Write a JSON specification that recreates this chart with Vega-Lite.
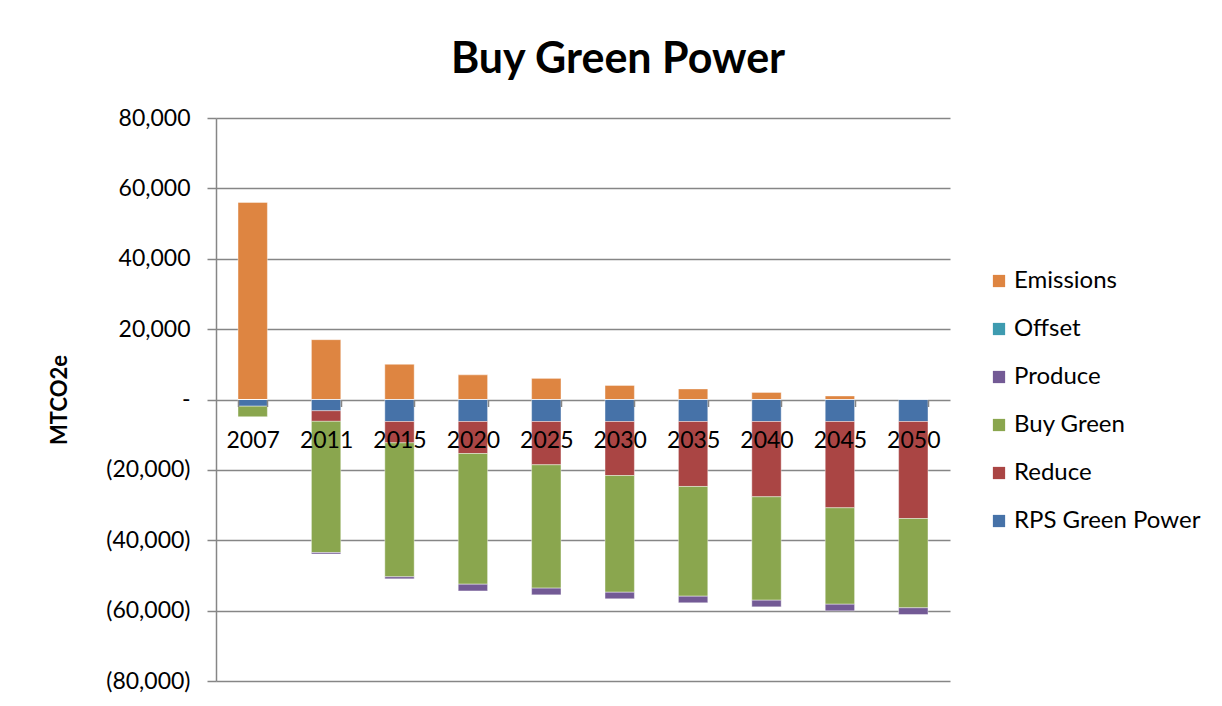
{
  "$schema": "https://vega.github.io/schema/vega-lite/v6.json",
  "width": 734,
  "height": 563,
  "autosize": {"type": "none"},
  "padding": {"left": 216, "top": 118, "right": 272, "bottom": 25},
  "background": "white",
  "title": {"text": "Buy Green Power", "font": "Lato", "fontSize": 43, "fontWeight": "bold", "color": "black", "anchor": "middle", "dx": 35, "offset": -9, "baseline": "alphabetic"},
  "data": {
    "values": [
      {"year": "2007", "series": "Emissions", "value": 56000, "ord": 6},
      {"year": "2007", "series": "RPS Green Power", "value": -1900, "ord": 1},
      {"year": "2007", "series": "Reduce", "value": 0, "ord": 2},
      {"year": "2007", "series": "Buy Green", "value": -3000, "ord": 3},
      {"year": "2007", "series": "Produce", "value": 0, "ord": 4},
      {"year": "2007", "series": "Offset", "value": 0, "ord": 5},
      {"year": "2011", "series": "Emissions", "value": 17000, "ord": 6},
      {"year": "2011", "series": "RPS Green Power", "value": -3200, "ord": 1},
      {"year": "2011", "series": "Reduce", "value": -3000, "ord": 2},
      {"year": "2011", "series": "Buy Green", "value": -37300, "ord": 3},
      {"year": "2011", "series": "Produce", "value": -400, "ord": 4},
      {"year": "2011", "series": "Offset", "value": 0, "ord": 5},
      {"year": "2015", "series": "Emissions", "value": 10000, "ord": 6},
      {"year": "2015", "series": "RPS Green Power", "value": -6250, "ord": 1},
      {"year": "2015", "series": "Reduce", "value": -6060, "ord": 2},
      {"year": "2015", "series": "Buy Green", "value": -38080, "ord": 3},
      {"year": "2015", "series": "Produce", "value": -570, "ord": 4},
      {"year": "2015", "series": "Offset", "value": 0, "ord": 5},
      {"year": "2020", "series": "Emissions", "value": 7000, "ord": 6},
      {"year": "2020", "series": "RPS Green Power", "value": -6250, "ord": 1},
      {"year": "2020", "series": "Reduce", "value": -9100, "ord": 2},
      {"year": "2020", "series": "Buy Green", "value": -37140, "ord": 3},
      {"year": "2020", "series": "Produce", "value": -1900, "ord": 4},
      {"year": "2020", "series": "Offset", "value": 0, "ord": 5},
      {"year": "2025", "series": "Emissions", "value": 6000, "ord": 6},
      {"year": "2025", "series": "RPS Green Power", "value": -6250, "ord": 1},
      {"year": "2025", "series": "Reduce", "value": -12310, "ord": 2},
      {"year": "2025", "series": "Buy Green", "value": -35050, "ord": 3},
      {"year": "2025", "series": "Produce", "value": -1900, "ord": 4},
      {"year": "2025", "series": "Offset", "value": 0, "ord": 5},
      {"year": "2030", "series": "Emissions", "value": 4000, "ord": 6},
      {"year": "2030", "series": "RPS Green Power", "value": -6250, "ord": 1},
      {"year": "2030", "series": "Reduce", "value": -15350, "ord": 2},
      {"year": "2030", "series": "Buy Green", "value": -33170, "ord": 3},
      {"year": "2030", "series": "Produce", "value": -1880, "ord": 4},
      {"year": "2030", "series": "Offset", "value": 0, "ord": 5},
      {"year": "2035", "series": "Emissions", "value": 3000, "ord": 6},
      {"year": "2035", "series": "RPS Green Power", "value": -6250, "ord": 1},
      {"year": "2035", "series": "Reduce", "value": -18470, "ord": 2},
      {"year": "2035", "series": "Buy Green", "value": -31180, "ord": 3},
      {"year": "2035", "series": "Produce", "value": -1880, "ord": 4},
      {"year": "2035", "series": "Offset", "value": 0, "ord": 5},
      {"year": "2040", "series": "Emissions", "value": 2000, "ord": 6},
      {"year": "2040", "series": "RPS Green Power", "value": -6250, "ord": 1},
      {"year": "2040", "series": "Reduce", "value": -21400, "ord": 2},
      {"year": "2040", "series": "Buy Green", "value": -29390, "ord": 3},
      {"year": "2040", "series": "Produce", "value": -1880, "ord": 4},
      {"year": "2040", "series": "Offset", "value": 0, "ord": 5},
      {"year": "2045", "series": "Emissions", "value": 1000, "ord": 6},
      {"year": "2045", "series": "RPS Green Power", "value": -6250, "ord": 1},
      {"year": "2045", "series": "Reduce", "value": -24530, "ord": 2},
      {"year": "2045", "series": "Buy Green", "value": -27400, "ord": 3},
      {"year": "2045", "series": "Produce", "value": -1880, "ord": 4},
      {"year": "2045", "series": "Offset", "value": 0, "ord": 5},
      {"year": "2050", "series": "Emissions", "value": 0, "ord": 6},
      {"year": "2050", "series": "RPS Green Power", "value": -6250, "ord": 1},
      {"year": "2050", "series": "Reduce", "value": -27570, "ord": 2},
      {"year": "2050", "series": "Buy Green", "value": -25380, "ord": 3},
      {"year": "2050", "series": "Produce", "value": -1900, "ord": 4},
      {"year": "2050", "series": "Offset", "value": 0, "ord": 5}
    ]
  },
  "mark": {"type": "bar", "stroke": "#ffffff", "strokeWidth": 0.8, "strokeOpacity": 0.5},
  "encoding": {
    "x": {
      "field": "year", "type": "nominal",
      "scale": {"paddingInner": 0.6, "paddingOuter": 0.3},
      "axis": {
        "orient": "bottom", "offset": -281.5, "title": null, "labelAngle": 0,
        "domain": false, "ticks": true, "tickBand": "extent", "tickSize": 7,
        "tickColor": "#868686", "tickWidth": 1.5,
        "labelFont": "Lato", "labelFontSize": 23, "labelColor": "black",
        "labelPadding": 23, "zindex": 1
      }
    },
    "y": {
      "field": "value", "type": "quantitative", "stack": "zero",
      "scale": {"domain": [-80000, 80000], "nice": false},
      "axis": {
        "values": [-80000, -60000, -40000, -20000, 0, 20000, 40000, 60000, 80000],
        "labelExpr": "datum.value > 0 ? format(datum.value, ',') + ' ' : datum.value < 0 ? '(' + format(-datum.value, ',') + ')' : '-\u2007\u2007 '",
        "grid": true, "gridColor": "#868686", "gridWidth": 1.5,
        "domain": true, "domainColor": "#868686", "domainWidth": 1.5,
        "ticks": true, "tickSize": 9, "tickColor": "#868686", "tickWidth": 1.5,
        "labelFont": "Lato", "labelFontSize": 23, "labelColor": "black", "labelPadding": 17,
        "title": "MTCO2e", "titleFont": "Lato", "titleFontSize": 22, "titleFontWeight": "bold",
        "titleColor": "black", "titleX": -157, "titleY": 281.5, "titleAngle": 270,
        "titleAlign": "center", "titleBaseline": "middle"
      }
    },
    "color": {
      "field": "series", "type": "nominal",
      "scale": {
        "domain": ["Emissions", "Offset", "Produce", "Buy Green", "Reduce", "RPS Green Power"],
        "range": ["#DE8541", "#3E9BB0", "#735A95", "#8AA64E", "#AA4544", "#4672A8"]
      },
      "legend": {
        "orient": "none", "legendX": 771, "legendY": 151, "title": null,
        "symbolType": "square", "symbolSize": 150, "symbolStrokeWidth": 0,
        "labelFont": "Lato", "labelFontSize": 24, "labelColor": "black", "labelLimit": 400,
        "rowPadding": 24, "labelOffset": 3
      }
    },
    "order": {"field": "ord", "type": "quantitative"}
  },
  "config": {"view": {"stroke": null}}
}
